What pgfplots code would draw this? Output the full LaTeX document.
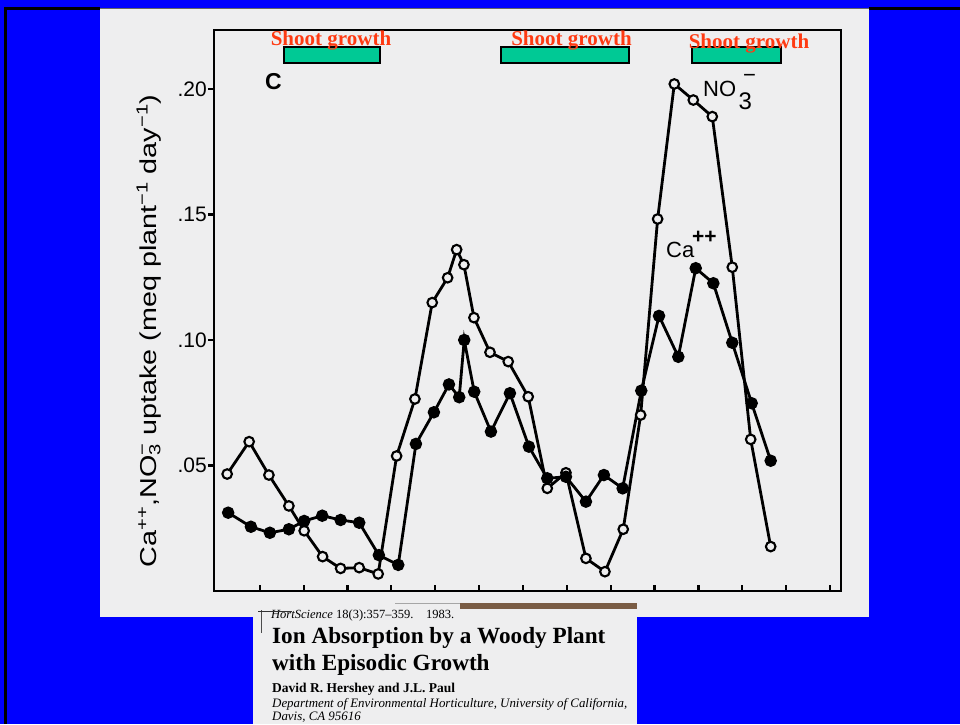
\documentclass[border=0pt]{standalone}
\usepackage{fontspec}
\setmainfont{Liberation Serif}
\newfontfamily\figsans{Liberation Sans}
\usepackage{pgfplots}
\pgfplotsset{compat=1.18}
\definecolor{slideblue}{HTML}{0000FF}
\definecolor{paper}{HTML}{EEEEEF}
\definecolor{shootred}{HTML}{FF3A12}
\definecolor{shootgreen}{HTML}{00C995}
\definecolor{scanbrown}{HTML}{7A5C44}

% uptake, meq plant^-1 day^-1; x in days (weekly ticks)
\pgfplotstableread{
day   no3
1.80  0.0466
5.31  0.0595
8.46  0.0462
11.65 0.0339
14.09 0.0240
17.03 0.0137
19.90 0.0090
22.87 0.0093
25.90 0.0068
28.84 0.0538
31.76 0.0765
34.52 0.1149
36.98 0.1248
38.42 0.1360
39.58 0.1300
41.18 0.1089
43.74 0.0951
46.65 0.0914
49.84 0.0774
52.88 0.0409
55.86 0.0471
59.05 0.0130
62.08 0.0077
65.00 0.0246
67.78 0.0701
70.49 0.1482
73.15 0.2020
76.18 0.1956
79.21 0.1890
82.40 0.1290
85.34 0.0604
88.53 0.0177
}\nitrate

\pgfplotstableread{
day   ca
1.96  0.0312
5.59  0.0256
8.62  0.0232
11.65 0.0246
14.09 0.0279
16.97 0.0300
19.90 0.0283
22.87 0.0272
26.01 0.0143
29.10 0.0104
31.92 0.0586
34.79 0.0712
37.19 0.0823
38.83 0.0772
39.63 0.1000
41.22 0.0794
43.89 0.0635
46.92 0.0788
49.95 0.0575
52.88 0.0449
55.86 0.0455
59.05 0.0356
61.92 0.0462
64.91 0.0409
67.88 0.0798
70.71 0.1096
73.79 0.0933
76.57 0.1286
79.38 0.1226
82.40 0.0989
85.50 0.0748
88.53 0.0519
}\calcium

\begin{document}
\begin{tikzpicture}[x=1pt,y=1pt]
\useasboundingbox (0,0) rectangle (960,724);
% slide
\fill[slideblue] (0,0) rectangle (960,724);
\fill[paper] (100,107) rectangle (869,716);
\fill[paper] (253,0) rectangle (637,107);
\fill[black] (4,0) rectangle (7,717);
\fill[black] (4,714) rectangle (100,717);
\fill[black] (869,714) rectangle (960,717);
\draw[black!60,line width=0.8pt] (100,715.5) -- (869,715.5);
% scan edge at the top of the clipping
\draw[black!35,line width=0.8pt] (395,121) -- (460,121);
\fill[scanbrown] (460,115) rectangle (637,121);

\begin{axis}[
  at={(214pt,133pt)}, anchor=south west,
  scale only axis, width=627pt, height=561pt,
  xmin=-0.3, xmax=99.75, ymin=0, ymax=0.2235,
  axis line style={line width=2.8pt, black},
  xtick={7,14,...,98}, xticklabels={},
  ytick={0.05,0.10,0.15,0.20}, yticklabels={.05,.10,.15,.20},
  xtick pos=bottom, ytick pos=left,
  xtick align=inside, ytick align=outside,
  major tick length=6pt,
  every tick/.style={black, line width=2.2pt},
  yticklabel style={font=\figsans\fontsize{21}{24}\selectfont, inner sep=1pt},
  clip=false,
]
\addplot[black, line width=2.8pt, mark=*, mark size=4.8pt,
  mark options={fill=paper, draw=black, line width=2.1pt}] table[x=day, y=no3] {\nitrate};
\addplot[black, line width=2.8pt, mark=*, mark size=4.8pt,
  mark options={fill=black}] table[x=day, y=ca] {\calcium};
\end{axis}

% axis title
\node[rotate=90, font=\figsans\fontsize{23}{26}\selectfont, inner sep=0pt] at (149,393)
  {\scalebox{1.25}[1]{Ca\textsuperscript{++},NO\rlap{\textsuperscript{−}}\textsubscript{3} uptake (meq plant\textsuperscript{−1} day\textsuperscript{−1})}};
% panel letter and series labels
\node[font=\figsans\bfseries\fontsize{23}{26}\selectfont, inner sep=0pt] at (273.5,642.5) {C};
\node[anchor=base west, font=\figsans\fontsize{22}{24}\selectfont, inner sep=0pt] at (703,627) {NO};
\node[anchor=base west, font=\figsans\fontsize{24}{26}\selectfont, inner sep=0pt] at (738.5,614) {3};
\node[font=\figsans\fontsize{22}{24}\selectfont, inner sep=0pt] at (749.5,646) {−};
\node[anchor=base west, font=\figsans\fontsize{22}{24}\selectfont, inner sep=0pt] at (666,466) {Ca};
\node[anchor=base west, font=\figsans\bfseries\fontsize{21}{24}\selectfont, inner sep=0pt] at (692,480) {++};

% shoot growth periods
\filldraw[fill=shootgreen, draw=black, line width=1.3pt] (284,661) rectangle (380,677);
\filldraw[fill=shootgreen, draw=black, line width=1.3pt] (501,661) rectangle (629,677);
\filldraw[fill=shootgreen, draw=black, line width=1.3pt] (692,661) rectangle (781,677);
\node[anchor=base, text=shootred, font=\bfseries\fontsize{21}{24}\selectfont, inner sep=0pt] at (331,678) {Shoot growth};
\node[anchor=base, text=shootred, font=\bfseries\fontsize{21}{24}\selectfont, inner sep=0pt] at (571.5,678) {Shoot growth};
\node[anchor=base, text=shootred, font=\bfseries\fontsize{21}{24}\selectfont, inner sep=0pt] at (749,675) {Shoot growth};

% article header
\draw[black!70, line width=0.6pt] (261,114) -- (261,91);
\node[anchor=base west, font=\fontsize{12.5}{14}\selectfont, inner sep=0pt] at (271,106)
  {\textit{HortScience} 18(3):357–359.\quad 1983.};
\draw[black!80, line width=0.9pt] (258,112.5) -- (292,112.5);
\node[anchor=base west, font=\bfseries\fontsize{23.2}{26}\selectfont, inner sep=0pt] at (272,81) {Ion Absorption by a Woody Plant};
\node[anchor=base west, font=\bfseries\fontsize{23.2}{26}\selectfont, inner sep=0pt] at (272,54) {with Episodic Growth};
\node[anchor=base west, font=\bfseries\fontsize{13.5}{16}\selectfont, inner sep=0pt] at (272,32) {David R. Hershey and J.L. Paul};
\node[anchor=base west, font=\itshape\fontsize{12.9}{15}\selectfont, inner sep=0pt] at (272,17) {Department of Environmental Horticulture, University of California,};
\node[anchor=base west, font=\itshape\fontsize{12.9}{15}\selectfont, inner sep=0pt] at (272,4) {Davis, CA 95616};
\end{tikzpicture}
\end{document}
